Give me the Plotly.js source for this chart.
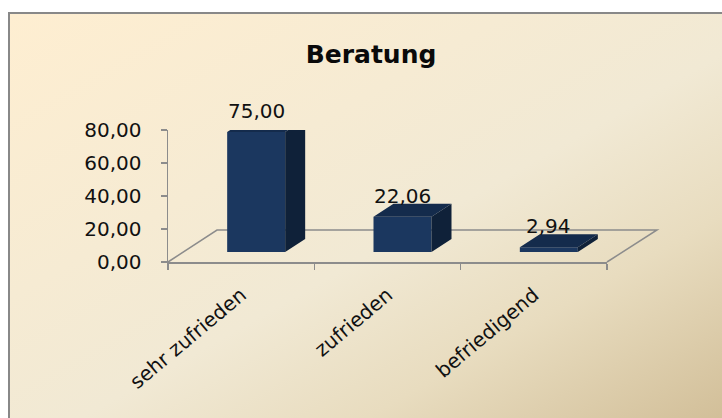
<!DOCTYPE html>
<html>
<head>
<meta charset="utf-8">
<script src="https://cdn.plot.ly/plotly-3.0.1.min.js"></script>
<style>
  html, body { margin:0; padding:0; background:#ffffff; }
  #wrap { position:relative; width:722px; height:418px; overflow:hidden; }
  #frame { position:absolute; left:8px; top:12px; width:714px; height:406px;
           box-sizing:border-box; border-left:2px solid #888888; border-top:2px solid #888888;
           background: linear-gradient(to bottom right, #FEEED1 0%, #F6EBD3 35%, #F1E9D4 55%, #E8DCBF 75%, #D2BF99 100%); }
  #chart { position:absolute; left:0; top:0; width:722px; height:418px; }
</style>
</head>
<body>
<div id="wrap">
  <div id="frame"></div>
  <div id="chart"></div>
</div>
<script>
// ---- data ----
const categories = ['sehr zufrieden', 'zufrieden', 'befriedigend'];
const values = [75.00, 22.06, 2.94];
const yTickVals = [0, 20, 40, 60, 80];
const chartTitle = 'Beratung';

// ---- geometry (pixels) ----
const W = 722, H = 418;
const axL = 168, axR = 607, axTop = 130, axBot = 262;
const catPx = (axR - axL) / categories.length;
const barShiftPx = 15;          // bars sit slightly deeper / right of the front plane
const barBasePx = 252;          // y pixel of bar base
const barPxPerUnit = 1.6;
const barWidthPx = 58;
const depthDxPx = 20, depthDyPx = 13;
const floorDx = 49, floorDy = 32;

const fx = p => p / W;
const fy = p => 1 - p / H;

const shift = barShiftPx / catPx;
const bw = barWidthPx / catPx;
const ddx = depthDxPx / catPx;
const ddy = depthDyPx / barPxPerUnit;
const y2min = -(axBot - barBasePx) / barPxPerUnit;
const y2max = (barBasePx - axTop) / barPxPerUnit;

const idx = categories.map((c, i) => i);

const FRONT = '#1B375F', TOP = '#142B4C', SIDE = '#0F2139';
const FONT = 'DejaVu Sans, Verdana, sans-serif';
const AXC = '#8C8C8C';

// faces computed from the data
const topX = [], topY = [], sideX = [], sideY = [];
idx.forEach((i) => {
  const v = values[i];
  const l = i - bw / 2, r = i + bw / 2;
  topX.push(l, r, r + ddx, l + ddx, null);
  topY.push(v, v, v + ddy, v + ddy, null);
  sideX.push(r, r + ddx, r + ddx, r, null);
  sideY.push(0, ddy, v + ddy, v, null);
});

const traces = [
  { type:'bar', x: idx, y: values, width: bw, xaxis:'x2', yaxis:'y2',
    marker:{ color: FRONT, line:{ width:0 } }, hoverinfo:'skip', showlegend:false },
  { type:'scatter', mode:'lines', x: sideX, y: sideY, fill:'toself', fillcolor: SIDE,
    line:{ width:0, color: SIDE }, xaxis:'x2', yaxis:'y2', hoverinfo:'skip', showlegend:false },
  { type:'scatter', mode:'lines', x: topX, y: topY, fill:'toself', fillcolor: TOP,
    line:{ width:0, color: TOP }, xaxis:'x2', yaxis:'y2', hoverinfo:'skip', showlegend:false },
  // invisible trace to register categories on the main x axis
  { type:'scatter', mode:'markers', x: categories, y: values.map(() => null),
    xaxis:'x', yaxis:'y', hoverinfo:'skip', showlegend:false }
];

const fmt = v => v.toFixed(2).replace('.', ',');

const annotations = idx.map(i => ({
  xref:'x2', yref:'y2', x: i, y: values[i], text: fmt(values[i]),
  showarrow:false, yanchor:'bottom', xanchor:'center', yshift: 7,
  font:{ family: FONT, size: 20, color:'#111111' }
}));

const floorPath = 'M ' + fx(axL) + ' ' + fy(axBot) +
  ' L ' + fx(axL + floorDx) + ' ' + fy(axBot - floorDy) +
  ' L ' + fx(axR + floorDx + 1) + ' ' + fy(axBot - floorDy) +
  ' L ' + fx(axR) + ' ' + fy(axBot);

const layout = {
  width: W, height: H,
  margin:{ l:0, r:0, t:0, b:0 },
  paper_bgcolor:'rgba(0,0,0,0)', plot_bgcolor:'rgba(0,0,0,0)',
  separators: ',.',
  showlegend:false,
  barmode:'overlay',
  title:{ text: '<b>' + chartTitle + '</b>', x: 371 / W, xanchor:'center',
          y: 1 - 54 / H, yanchor:'middle', yref:'container',
          font:{ family: FONT, size: 25, color:'#0a0a0a' } },
  xaxis:{ domain:[fx(axL), fx(axR)], type:'category', categoryarray: categories,
          range:[-0.5, categories.length - 0.5], tickson:'boundaries',
          ticks:'outside', ticklen:6, tickwidth:1.5, tickcolor: AXC,
          showline:true, linecolor: AXC, linewidth:1.5, showgrid:false, zeroline:false,
          tickangle:-40, ticklabelstandoff: 12,
          tickfont:{ family: FONT, size: 20, color:'#111111' }, anchor:'y', fixedrange:true },
  yaxis:{ domain:[fy(axBot), fy(axTop)], range:[0, 80], tickvals: yTickVals, tickformat:'.2f',
          ticks:'outside', ticklen:6, tickwidth:1.5, tickcolor: AXC,
          showline:true, linecolor: AXC, linewidth:1.5, showgrid:false, zeroline:false,
          ticklabelstandoff: 15,
          tickfont:{ family: FONT, size: 20, color:'#111111' }, anchor:'x', fixedrange:true },
  xaxis2:{ overlaying:'x', anchor:'y2', range:[-0.5 - shift, categories.length - 0.5 - shift],
           visible:false, fixedrange:true },
  yaxis2:{ overlaying:'y', anchor:'x2', range:[y2min, y2max], visible:false, fixedrange:true },
  shapes:[ { type:'path', xref:'paper', yref:'paper', path: floorPath,
             line:{ color: AXC, width:1.5 }, layer:'below' } ],
  annotations: annotations
};

Plotly.newPlot('chart', traces, layout, { displayModeBar:false, staticPlot:true });
</script>
</body>
</html>
